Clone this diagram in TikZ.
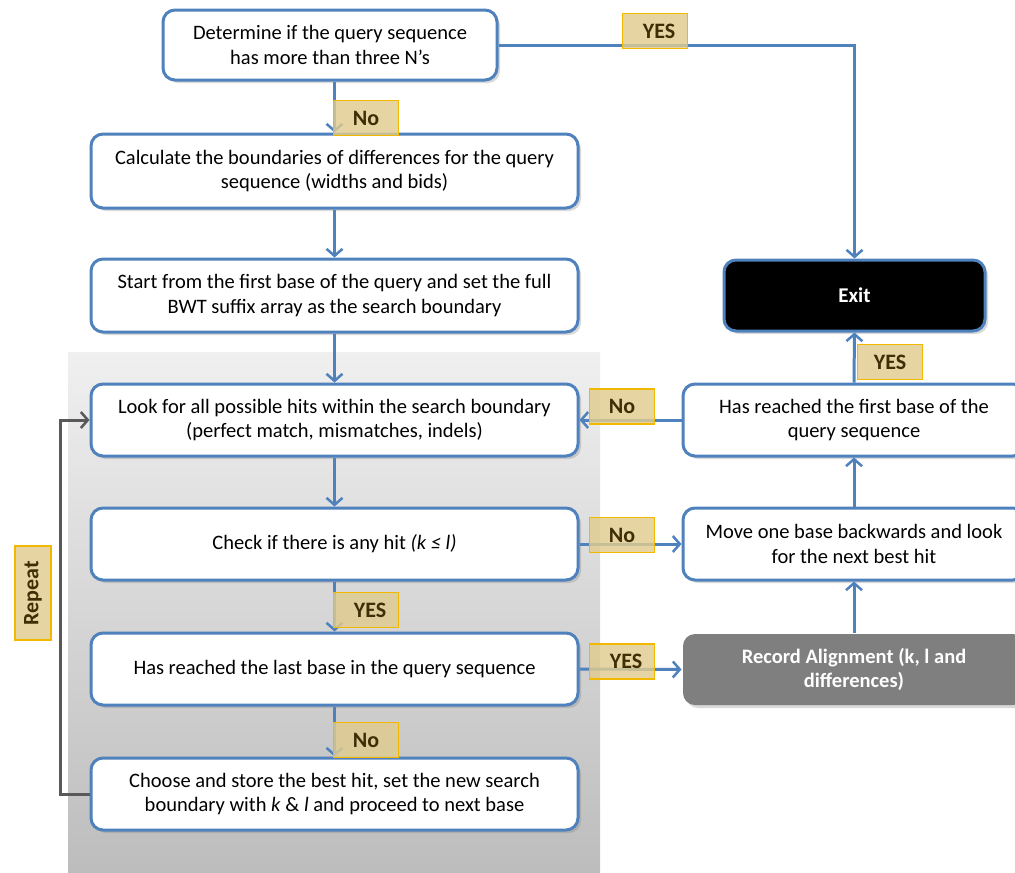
\documentclass[tikz,border=0pt]{standalone}
\usepackage{fontspec}
\setmainfont{Carlito}
\usetikzlibrary{arrows.meta,shadows,calc}
\definecolor{bblue}{HTML}{4F81BD}
\definecolor{labfill}{HTML}{E0CC8E}
\definecolor{labborder}{HTML}{F2B800}
\definecolor{labtext}{HTML}{3F2E05}
\definecolor{repgray}{HTML}{595959}
\definecolor{recgray}{HTML}{7F7F7F}
\begin{document}
\begin{tikzpicture}[x=1pt,y=-1pt,
  box/.style={draw=bblue, line width=3pt, rounded corners=12pt, fill=white,
    minimum width=487pt, minimum height=72pt, align=center, inner sep=0pt,
    font=\fontsize{20.5}{24.5}\selectfont,
    drop shadow={shadow xshift=3pt, shadow yshift=-3pt, opacity=0.3}},
  conn/.style={draw=bblue, line width=3pt, -{Straight Barb[length=7pt,width=16pt,line width=2.5pt]}},
  repconn/.style={draw=repgray, line width=3pt, -{Straight Barb[length=7pt,width=16pt,line width=2.5pt]}},
  lab/.style={fill=labfill, fill opacity=0.82, text opacity=1, draw=labborder,
    line width=1.2pt, minimum width=65pt, minimum height=35pt, inner sep=0pt,
    text=labtext, font=\bfseries\fontsize{22}{22}\selectfont}]
\useasboundingbox (0,0) rectangle (1015,873);
\clip (0,0) rectangle (1015,873);
% panel
\shade[top color=black!6, bottom color=black!26] (68,352) rectangle (600,873);
% boxes
\node[box, minimum width=334pt, minimum height=70pt] (b1) at (330,45)
  {Determine if the query sequence\\has more than three N’s};
\node[box, minimum height=74pt] (b2) at (334.5,171)
  {Calculate the boundaries of differences for the query\\sequence (widths and bids)};
\node[box, minimum height=73pt] (b3) at (334.5,295.5)
  {Start from the first base of the query and set the full\\BWT suffix array as the search boundary};
\node[box] (b4) at (334.5,420)
  {Look for all possible hits within the search boundary\\(perfect match, mismatches, indels)};
\node[box] (b5) at (334.5,544)
  {Check if there is any hit \textit{(k ≤ l)}};
\node[box] (b6) at (334.5,669)
  {Has reached the last base in the query sequence};
\node[box] (b7) at (334.5,794)
  {Choose and store the best hit, set the new search\\boundary with \textit{k} \& \textit{l} and proceed to next base};
\node[box, fill=black, text=white, font=\bfseries\fontsize{21}{24}\selectfont,
  minimum width=261pt, minimum height=71pt] (exit) at (854.5,295.5) {Exit};
\node[box, minimum width=342pt] (b8) at (854,420)
  {Has reached the first base of the\\query sequence};
\node[box, minimum width=342pt] (b9) at (854,544)
  {Move one base backwards and look\\for the next best hit};
\node[box, draw=none, fill=recgray, text=white, font=\bfseries\fontsize{20.5}{24.5}\selectfont,
  minimum width=342pt, minimum height=71pt] (rec) at (854,669.5)
  {Record Alignment (k, l and\\differences)};
% connectors
\draw[conn] (b1.east) -| (exit.north);
\draw[conn] (b1.south -| b2.north) -- (b2.north);
\draw[conn] (b2.south) -- (b3.north);
\draw[conn] (b3.south) -- (b4.north);
\draw[conn] (b4.south) -- (b5.north);
\draw[conn] (b5.south) -- (b6.north);
\draw[conn] (b6.south) -- (b7.north);
\draw[conn] (b5.east) -- (b9.west);
\draw[conn] (b6.east) -- (rec.west);
\draw[conn] (rec.north) -- (b9.south);
\draw[conn] (b9.north) -- (b8.south);
\draw[conn] (b8.north) -- (exit.south);
\draw[conn] (b8.west) -- (b4.east);
\coordinate (rp) at (60,794);
\draw[repconn] (b7.west) -- (rp) |- (b4.west);
% labels
\node[lab] (l1) at (655,31) {\hspace{8pt}YES};
\node[lab] (l2) at (366,118) {No};
\node[lab] (l3) at (622,406.5) {No};
\node[lab] (l4) at (622,535) {No};
\node[lab] (l5) at (366,610) {\hspace{8pt}YES};
\node[lab] (l6) at (622,661.5) {\hspace{8pt}YES};
\node[lab] (l7) at (366,740) {No};
\node[lab] (l8) at (890,362) {YES};
\node[lab, rotate=90, minimum width=94pt, minimum height=36pt] (l9) at (33,593) {Repeat};
\end{tikzpicture}
\end{document}
